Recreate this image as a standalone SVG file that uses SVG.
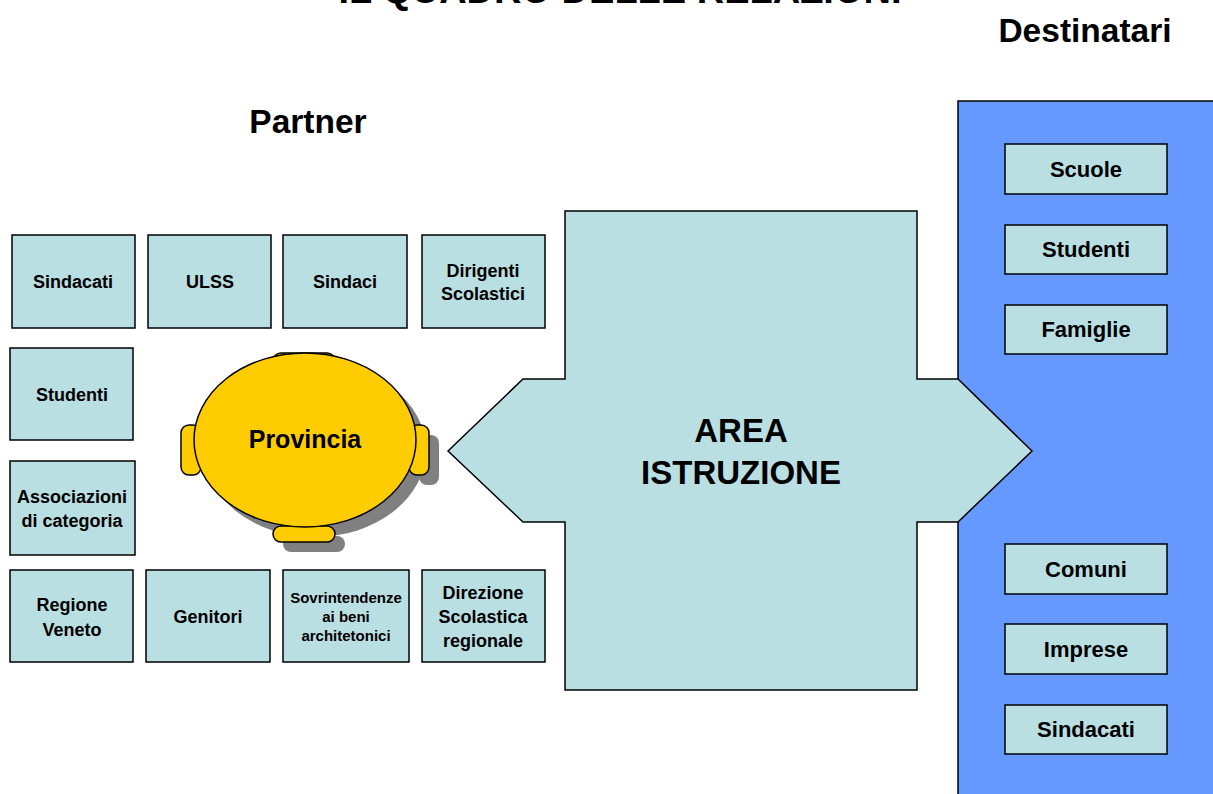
<svg xmlns="http://www.w3.org/2000/svg" width="1213" height="794" viewBox="0 0 1213 794">
<style>
text{font-family:"Liberation Sans",Arial,sans-serif;font-weight:bold;fill:#000;text-anchor:middle}
.box{fill:#BADFE3;stroke:#000;stroke-width:1.5}
.l{font-size:18px}
.r{font-size:22px}
.h{font-size:33.5px}
.y{fill:#FFCC00;stroke:#000;stroke-width:1.5}
.sh{fill:#808080}
</style>
<rect width="1213" height="794" fill="#fff"/>
<text x="620" y="3" style="font-size:38px">IL QUADRO DELLE RELAZIONI</text>
<text class="h" x="1085" y="42">Destinatari</text>
<text class="h" x="308" y="133">Partner</text>

<g id="destinatari-panel">
<rect x="958" y="101" width="260" height="700" fill="#6699FF" stroke="#000" stroke-width="1.5"/>
</g>

<g id="area-istruzione">
<polygon class="box" points="448,451 523,379 565,379 565,211 917,211 917,379 958,379 1032,451 958,522 917,522 917,690 565,690 565,522 523,522"/>
<text x="741" y="442" style="font-size:33px">AREA</text>
<text x="741" y="484" style="font-size:33px">ISTRUZIONE</text>
</g>

<g id="provincia">
<g class="sh" transform="translate(10,10)">
<rect x="273" y="526" width="62" height="16" rx="8"/>
<rect x="409" y="425" width="20" height="50" rx="8"/>
<ellipse cx="305" cy="440" rx="111" ry="87"/>
</g>
<rect class="y" x="273" y="353" width="62" height="16" rx="8"/>
<rect class="y" x="273" y="526" width="62" height="16" rx="8"/>
<rect class="y" x="181" y="425" width="20" height="50" rx="8"/>
<rect class="y" x="409" y="425" width="20" height="50" rx="8"/>
<ellipse class="y" cx="305" cy="440" rx="111" ry="87"/>
<text x="305" y="448" style="font-size:25px">Provincia</text>
</g>

<g id="p-sindacati"><rect class="box" x="12" y="235" width="123" height="93"/><text class="l" x="73" y="288">Sindacati</text></g>
<g id="p-ulss"><rect class="box" x="148" y="235" width="123" height="93"/><text class="l" x="210" y="288">ULSS</text></g>
<g id="p-sindaci"><rect class="box" x="283" y="235" width="124" height="93"/><text class="l" x="345" y="288">Sindaci</text></g>
<g id="p-dirigenti"><rect class="box" x="422" y="235" width="123" height="93"/><text class="l" x="483" y="277">Dirigenti</text><text class="l" x="483" y="300">Scolastici</text></g>
<g id="p-studenti"><rect class="box" x="10" y="348" width="123" height="92"/><text class="l" x="72" y="401">Studenti</text></g>
<g id="p-associazioni"><rect class="box" x="10" y="461" width="125" height="94"/><text class="l" x="72" y="503">Associazioni</text><text class="l" x="72" y="527">di categoria</text></g>
<g id="p-regione"><rect class="box" x="10" y="570" width="123" height="92"/><text class="l" x="72" y="611">Regione</text><text class="l" x="72" y="636">Veneto</text></g>
<g id="p-genitori"><rect class="box" x="146" y="570" width="124" height="92"/><text class="l" x="208" y="623">Genitori</text></g>
<g id="p-sovrintendenze"><rect class="box" x="283" y="570" width="126" height="92"/><text x="346" y="603" style="font-size:15px">Sovrintendenze</text><text x="346" y="622" style="font-size:15px">ai beni</text><text x="346" y="641" style="font-size:15px">architetonici</text></g>
<g id="p-direzione"><rect class="box" x="422" y="570" width="123" height="92"/><text class="l" x="483" y="599">Direzione</text><text class="l" x="483" y="623">Scolastica</text><text class="l" x="483" y="647">regionale</text></g>

<g id="d-scuole"><rect class="box" x="1005" y="144" width="162" height="50"/><text class="r" x="1086" y="177">Scuole</text></g>
<g id="d-studenti"><rect class="box" x="1005" y="225" width="162" height="49"/><text class="r" x="1086" y="257">Studenti</text></g>
<g id="d-famiglie"><rect class="box" x="1005" y="305" width="162" height="49"/><text class="r" x="1086" y="337">Famiglie</text></g>
<g id="d-comuni"><rect class="box" x="1005" y="544" width="162" height="50"/><text class="r" x="1086" y="577">Comuni</text></g>
<g id="d-imprese"><rect class="box" x="1005" y="624" width="162" height="50"/><text class="r" x="1086" y="657">Imprese</text></g>
<g id="d-sindacati"><rect class="box" x="1005" y="705" width="162" height="49"/><text class="r" x="1086" y="737">Sindacati</text></g>

<g id="connectors"></g>
</svg>
